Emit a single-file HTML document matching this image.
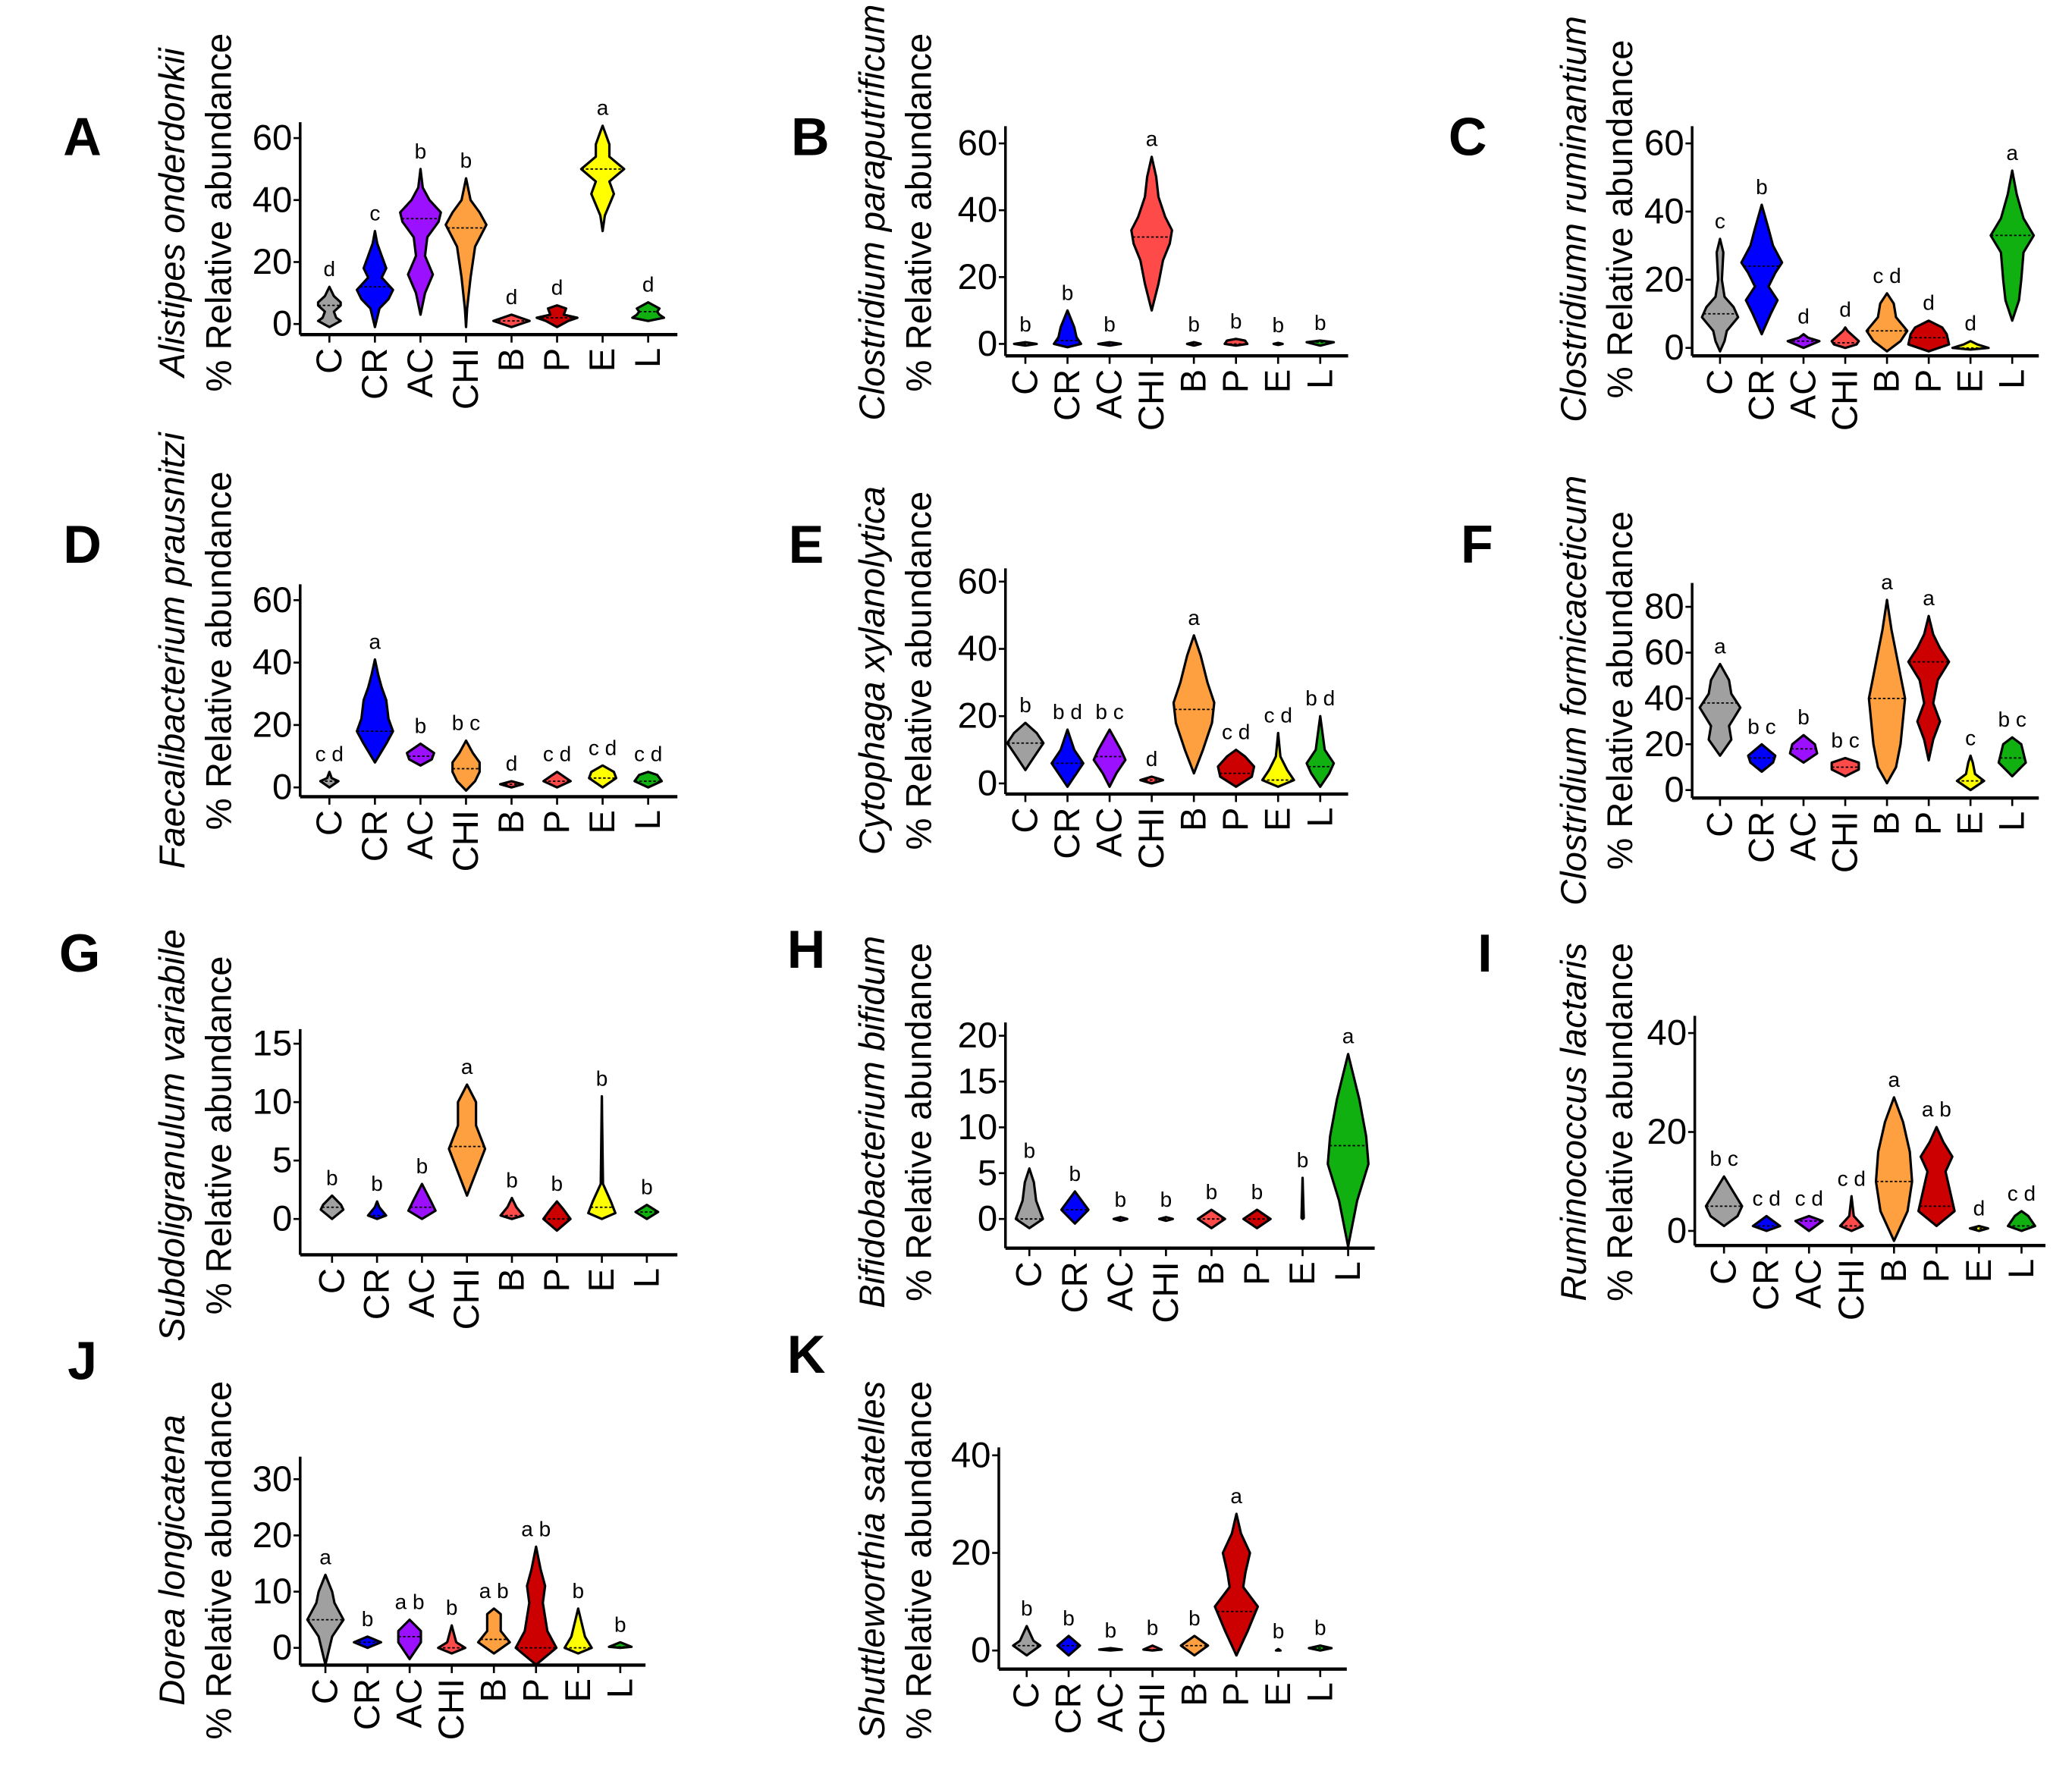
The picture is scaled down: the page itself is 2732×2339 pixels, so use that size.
<!DOCTYPE html>
<html><head><meta charset="utf-8">
<style>
html,body{margin:0;padding:0;background:#fff;}
svg{display:block;font-family:"Liberation Sans",Arial,sans-serif;}
</style></head>
<body>
<svg id="fig" xmlns="http://www.w3.org/2000/svg" width="2732" height="2339" viewBox="0 0 1560 1336" preserveAspectRatio="none"></svg>
<script>
const categories = ["C","CR","AC","CHI","B","P","E","L"];
const GR="#a0a0a0",BL="#0000ff",PU="#9b10ff",OR="#ffa040",RD="#ff4a4a",DR="#cc0000",YE="#ffff00",GN="#10b010";
// violin profiles: [value, relative density]
const violinsA = [[[-1,0],[1,0.5],[2,0.3],[4,0.2],[6,0.5],[7,0.5],[9,0.2],[12,0]],[[-1,0],[2,0.1],[5,0.2],[8,0.6],[11,0.8],[15,0.3],[18,0.5],[22,0.3],[26,0.1],[30,0]],[[3,0],[10,0.2],[16,0.55],[22,0.2],[28,0.3],[33,0.8],[36,0.9],[40,0.4],[44,0.1],[50,0]],[[-1,0],[5,0.05],[15,0.2],[25,0.4],[32,0.9],[36,0.6],[40,0.2],[47,0]],[[-1,0],[0,0.4],[1,0.8],[2,0.4],[3,0]],[[-1,0],[1,0.5],[2,0.9],[3,0.3],[5,0.4],[6,0]],[[30,0],[35,0.1],[42,0.5],[46,0.3],[50,0.95],[54,0.3],[58,0.3],[62,0.1],[64,0]],[[1,0],[2,0.7],[3,0.5],[4,0.4],[5,0.5],[7,0]]];
const violinsB = [[[-0.5,0],[0,0.5],[0.5,0]],[[-1,0],[0,0.6],[2,0.4],[5,0.3],[10,0]],[[-0.5,0],[0,0.5],[0.5,0]],[[10,0],[18,0.3],[25,0.5],[30,0.8],[34,0.9],[38,0.6],[44,0.3],[50,0.2],[56,0]],[[-0.5,0],[0,0.3],[0.5,0]],[[-0.5,0],[0,0.5],[1,0.4],[1.5,0]],[[-0.3,0],[0,0.2],[0.3,0]],[[-0.5,0],[0.5,0.6],[1,0]]];
const violinsC = [[[-1,0],[2,0.2],[5,0.3],[9,0.8],[12,0.6],[15,0.2],[20,0.08],[28,0.15],[32,0]],[[4,0],[10,0.4],[14,0.7],[18,0.3],[22,0.6],[25,0.9],[30,0.5],[35,0.3],[42,0]],[[0,0],[2,0.7],[3,0.2],[4,0]],[[0,0],[1,0.5],[2,0.6],[5,0.1],[6,0]],[[-1,0],[2,0.6],[5,0.9],[9,0.4],[13,0.3],[16,0]],[[-1,0],[1,0.9],[4,0.8],[6,0.6],[8,0]],[[-0.5,0],[0,0.8],[1,0.3],[2,0]],[[8,0],[14,0.3],[20,0.4],[28,0.5],[33,0.95],[38,0.5],[45,0.2],[52,0]]];
const violinsD = [[[0,0],[2,0.4],[3,0.1],[5,0]],[[8,0],[14,0.5],[18,0.8],[22,0.6],[28,0.5],[32,0.3],[36,0.15],[41,0]],[[7,0],[9,0.5],[11,0.6],[14,0]],[[-1,0],[2,0.4],[5,0.6],[8,0.6],[11,0.3],[15,0]],[[0,0],[1,0.5],[2,0]],[[0,0],[2,0.6],[4,0.2],[5,0]],[[0,0],[3,0.6],[5,0.5],[7,0]],[[0,0],[2,0.6],[4,0.4],[5,0]]];
const violinsE = [[[4,0],[8,0.4],[12,0.8],[15,0.5],[18,0]],[[-1,0],[3,0.4],[6,0.7],[10,0.3],[16,0]],[[-1,0],[3,0.3],[7,0.7],[10,0.5],[16,0]],[[0,0],[1,0.5],[2,0]],[[3,0],[10,0.4],[18,0.8],[24,0.9],[30,0.6],[38,0.3],[44,0]],[[-1,0],[2,0.7],[5,0.8],[8,0.4],[10,0]],[[-1,0],[1,0.7],[4,0.4],[8,0.1],[15,0]],[[-1,0],[3,0.4],[6,0.6],[10,0.2],[20,0]]];
const violinsF = [[[15,0],[22,0.5],[28,0.4],[36,0.9],[42,0.5],[48,0.4],[55,0]],[[8,0],[12,0.5],[15,0.6],[20,0]],[[12,0],[16,0.6],[20,0.5],[24,0]],[[6,0],[9,0.6],[12,0.6],[14,0]],[[3,0],[10,0.4],[20,0.6],[30,0.7],[40,0.8],[50,0.6],[60,0.4],[70,0.2],[83,0]],[[13,0],[22,0.2],[30,0.5],[38,0.2],[48,0.4],[56,0.9],[62,0.5],[68,0.2],[76,0]],[[0,0],[4,0.6],[7,0.2],[12,0.1],[15,0]],[[6,0],[12,0.6],[16,0.5],[20,0.4],[23,0]]];
const violinsG = [[[0,0],[0.8,0.5],[1.2,0.4],[2,0]],[[0,0],[0.3,0.4],[1,0.1],[1.5,0]],[[0,0],[0.7,0.6],[1.5,0.4],[3,0]],[[2,0],[4,0.4],[6,0.8],[8,0.4],[10,0.4],[11.5,0]],[[0,0],[0.3,0.5],[1,0.2],[1.8,0]],[[-1,0],[0,0.6],[0.8,0.3],[1.5,0]],[[0,0],[0.5,0.6],[1.5,0.4],[3,0.05],[10.5,0]],[[0,0],[0.6,0.5],[1.2,0]]];
const violinsH = [[[-1,0],[0,0.6],[2,0.3],[4,0.2],[5.5,0]],[[-0.5,0],[1,0.6],[2,0.3],[3,0]],[[-0.2,0],[0,0.3],[0.2,0]],[[-0.2,0],[0,0.3],[0.2,0]],[[-1,0],[0,0.6],[1,0]],[[-1,0],[0,0.6],[1,0]],[[0,0],[0.1,0.05],[4.5,0]],[[-3,0],[2,0.4],[6,0.9],[9,0.8],[13,0.5],[18,0]]];
const violinsI = [[[1,0],[3,0.6],[5,0.8],[8,0.4],[11,0]],[[0,0],[1,0.6],[3,0]],[[0,0],[2,0.6],[3,0]],[[0,0],[1,0.5],[3,0.1],[7,0]],[[-2,0],[4,0.6],[10,0.8],[16,0.7],[22,0.4],[27,0]],[[1,0],[4,0.8],[8,0.6],[12,0.4],[15,0.7],[18,0.3],[21,0]],[[0,0],[0.5,0.4],[1,0]],[[0,0],[1,0.6],[3,0.3],[4,0]]];
const violinsJ = [[[-3,0],[2,0.3],[5,0.8],[8,0.4],[10,0.3],[13,0]],[[0,0],[1,0.6],[2,0]],[[-2,0],[1,0.5],[3,0.5],[5,0]],[[-1,0],[0,0.6],[1,0.2],[4,0]],[[-1,0],[1,0.7],[3,0.3],[6,0.3],[7,0]],[[-3,0],[0,0.9],[3,0.5],[8,0.3],[11,0.4],[14,0.2],[18,0]],[[-1,0],[0,0.6],[2,0.3],[7,0]],[[0,0],[0.2,0.5],[1,0]]];
const violinsK = [[[-1,0],[1,0.6],[2,0.3],[5,0]],[[-1,0],[1,0.5],[3,0]],[[0,0],[0.2,0.5],[0.5,0]],[[0,0],[0.2,0.4],[1,0]],[[-1,0],[1,0.6],[3,0]],[[-1,0],[4,0.5],[9,0.95],[13,0.3],[16,0.4],[20,0.6],[24,0.2],[28,0]],[[0,0],[0,0.1],[0.3,0]],[[0,0],[0.5,0.5],[1,0]]];
const mediansA=[6,12,34,31,1,2,50,4], mediansB=[0,1,0,32,0,0,0,0.5], mediansC=[10,24,2,1.5,5,3,0,33], mediansD=[2,18,10,6,1,2,3,2];
const mediansE=[12,6,8,1,22,3,1,5], mediansF=[38,14,18,10,40,56,4,14], mediansG=[1,0.3,1,6.2,0.3,0,1,0.6], mediansH=[0,1,0,0,0,0,0,8];
const mediansI=[5,1,2,1,10,5,0.5,1], mediansJ=[5,1,2,0,1.5,0,0,0.2], mediansK=[1,1,0.2,0.2,1,8,0,0.5];
const lettersA=["d","c","b","b","d","d","a","d"], lettersB=["b","b","b","a","b","b","b","b"], lettersC=["c","b","d","d","c d","d","d","a"];
const lettersD=["c d","a","b","b c","d","c d","c d","c d"], lettersE=["b","b d","b c","d","a","c d","c d","b d"], lettersF=["a","b c","b","b c","a","a","c","b c"];
const lettersG=["b","b","b","a","b","b","b","b"], lettersH=["b","b","b","b","b","b","b","a"], lettersI=["b c","c d","c d","c d","a","a b","d","c d"];
const lettersJ=["a","b","a b","b","a b","a b","b","b"], lettersK=["b","b","b","b","b","a","b","b"];
const ticksA=[0,20,40,60], ticksF=[0,20,40,60,80], ticksG=[0,5,10,15], ticksH=[0,5,10,15,20], ticksI=[0,20,40], ticksJ=[0,10,20,30];

const panels=[
 {id:"A",sp:"Alistipes onderdonkii",v:violinsA,m:mediansA,l:lettersA,t:ticksA,tmax:60,col:[GR,BL,PU,OR,RD,DR,YE,GN],ax:226,xe:510,y0:244,yt:104,xa:252,top:92,c0:248,c1:488,lx:62,ly:103,tx:130,ty:160},
 {id:"B",sp:"Clostridium paraputrificum",v:violinsB,m:mediansB,l:lettersB,t:ticksA,tmax:60,col:[GR,BL,PU,RD,RD,RD,YE,GN],ax:757,xe:1015,y0:259,yt:108,xa:268,top:95,c0:772,c1:994,lx:610,ly:103,tx:657,ty:160},
 {id:"C",sp:"Clostridiumn ruminantium",v:violinsC,m:mediansC,l:lettersC,t:ticksA,tmax:60,col:[GR,BL,PU,RD,OR,DR,YE,GN],ax:1274,xe:1535,y0:262,yt:108,xa:268,top:95,c0:1295,c1:1515,lx:1105,ly:103,tx:1185,ty:165},
 {id:"D",sp:"Faecalibacterium prausnitzi",v:violinsD,m:mediansD,l:lettersD,t:ticksA,tmax:60,col:[GR,BL,PU,OR,RD,RD,YE,GN],ax:226,xe:510,y0:593,yt:452,xa:600,top:440,c0:248,c1:488,lx:62,ly:410,tx:130,ty:490},
 {id:"E",sp:"Cytophaga xylanolytica",v:violinsE,m:mediansE,l:lettersE,t:ticksA,tmax:60,col:[GR,BL,PU,RD,OR,DR,YE,GN],ax:757,xe:1015,y0:590,yt:438,xa:598,top:428,c0:772,c1:994,lx:607,ly:410,tx:657,ty:505},
 {id:"F",sp:"Clostridium formicaceticum",v:violinsF,m:mediansF,l:lettersF,t:ticksF,tmax:80,col:[GR,BL,PU,RD,OR,DR,YE,GN],ax:1274,xe:1535,y0:595,yt:457,xa:601,top:439,c0:1295,c1:1515,lx:1112,ly:410,tx:1185,ty:520},
 {id:"G",sp:"Subdoligranulum variabile",v:violinsG,m:mediansG,l:lettersG,t:ticksG,tmax:15,col:[GR,BL,PU,OR,RD,DR,YE,GN],ax:226,xe:510,y0:918,yt:786,xa:945,top:775,c0:250,c1:487,lx:60,ly:718,tx:130,ty:855},
 {id:"H",sp:"Bifidobacterium bifidum",v:violinsH,m:mediansH,l:lettersH,t:ticksH,tmax:20,col:[GR,BL,PU,OR,RD,DR,YE,GN],ax:757,xe:1035,y0:918,yt:780,xa:940,top:770,c0:775,c1:1015,lx:607,ly:715,tx:657,ty:845},
 {id:"I",sp:"Ruminococcus lactaris",v:violinsI,m:mediansI,l:lettersI,t:ticksI,tmax:40,col:[GR,BL,PU,RD,OR,DR,YE,GN],ax:1276,xe:1540,y0:927,yt:778,xa:938,top:765,c0:1298,c1:1522,lx:1118,ly:718,tx:1185,ty:845},
 {id:"J",sp:"Dorea longicatena",v:violinsJ,m:mediansJ,l:lettersJ,t:ticksJ,tmax:30,col:[GR,BL,PU,RD,OR,DR,YE,GN],ax:226,xe:486,y0:1241,yt:1114,xa:1254,top:1097,c0:245,c1:467,lx:62,ly:1025,tx:130,ty:1175},
 {id:"K",sp:"Shuttleworthia satelles",v:violinsK,m:mediansK,l:lettersK,t:ticksI,tmax:40,col:[GR,BL,PU,RD,OR,DR,YE,GN],ax:752,xe:1014,y0:1243,yt:1096,xa:1257,top:1090,c0:773,c1:994,lx:607,ly:1020,tx:657,ty:1175}
];
const NS="http://www.w3.org/2000/svg";
const svg=document.getElementById("fig");
function mk(tag,parent,attrs){const e=document.createElementNS(NS,tag);for(const k in attrs)e.setAttribute(k,attrs[k]);parent.appendChild(e);return e;}
const HW=17;
panels.forEach(p=>{
  const g=mk("g",svg,{});
  
  
  const yS=v=>p.y0-(v/p.tmax)*(p.y0-p.yt);
  const xS=i=>p.c0+i*(p.c1-p.c0)/(categories.length-1);
  const L=mk("text",g,{x:p.lx,y:p.ly,"font-size":40,"font-weight":"bold","text-anchor":"middle","dominant-baseline":"central"});
  L.textContent=p.id;
  
  
  const t1=mk("text",g,{x:p.tx,y:p.ty,"font-size":27,"font-style":"italic","text-anchor":"middle","dominant-baseline":"central",transform:`rotate(-90 ${p.tx} ${p.ty})`});
  t1.textContent=p.sp;
  
  
  const t2=mk("text",g,{x:p.tx+35,y:p.ty,"font-size":27,"text-anchor":"middle","dominant-baseline":"central",transform:`rotate(-90 ${p.tx+35} ${p.ty})`});
  t2.textContent="% Relative abundance";
  
  
  const ya=mk("line",g,{x1:p.ax,y1:p.top,x2:p.ax,y2:p.xa,stroke:"#000","stroke-width":2});
  
  
  const xa=mk("line",g,{x1:p.ax,y1:p.xa,x2:p.xe,y2:p.xa,stroke:"#000","stroke-width":2.5});
  
  
  p.t.forEach(tv=>{
    const y=yS(tv);
    mk("line",g,{x1:p.ax-5,y1:y,x2:p.ax,y2:y,stroke:"#000","stroke-width":1.5});
    const tt=mk("text",g,{x:p.ax-6,y:y,"font-size":27,"text-anchor":"end","dominant-baseline":"central"});
    tt.textContent=tv;
    
    
  });
  categories.forEach((c,i)=>{
    const x=xS(i);
    mk("line",g,{x1:x,y1:p.xa,x2:x,y2:p.xa+6,stroke:"#000","stroke-width":1.5});
    const ct=mk("text",g,{x:x,y:p.xa+10,"font-size":27,"text-anchor":"end","dominant-baseline":"central",transform:`rotate(-90 ${x} ${p.xa+10})`});
    ct.textContent=c;
    
    
    const prof=p.v[i];
    let right=[],left=[];
    prof.forEach(([v,d])=>{right.push((x+d*HW).toFixed(1)+","+yS(v).toFixed(1));left.unshift((x-d*HW).toFixed(1)+","+yS(v).toFixed(1));});
    const vmax=prof[prof.length-1][0], vmin=prof[0][0];
    mk("line",g,{x1:x,y1:yS(vmin),x2:x,y2:yS(vmax),stroke:"#000","stroke-width":1.8});
    const poly=mk("polygon",g,{points:right.concat(left).join(" "),fill:p.col[i],stroke:"#000","stroke-width":1.8,"stroke-linejoin":"round"});
    
    
    const mv=p.m[i];let dm=0;
    for(let k=0;k<prof.length-1;k++){const [a,da]=prof[k],[b,db]=prof[k+1];if(mv>=a&&mv<=b){dm=b===a?da:da+(db-da)*(mv-a)/(b-a);break;}}
    if(dm>0.05){const ml=mk("line",g,{x1:x-dm*HW,y1:yS(mv),x2:x+dm*HW,y2:yS(mv),stroke:"#000","stroke-width":1,"stroke-dasharray":"2,1.5"});
      
      }
    const lt=mk("text",g,{x:x,y:yS(vmax)-8,"font-size":16,"text-anchor":"middle"});
    lt.textContent=p.l[i];
    
    
  });
});
</script>
</body></html>
